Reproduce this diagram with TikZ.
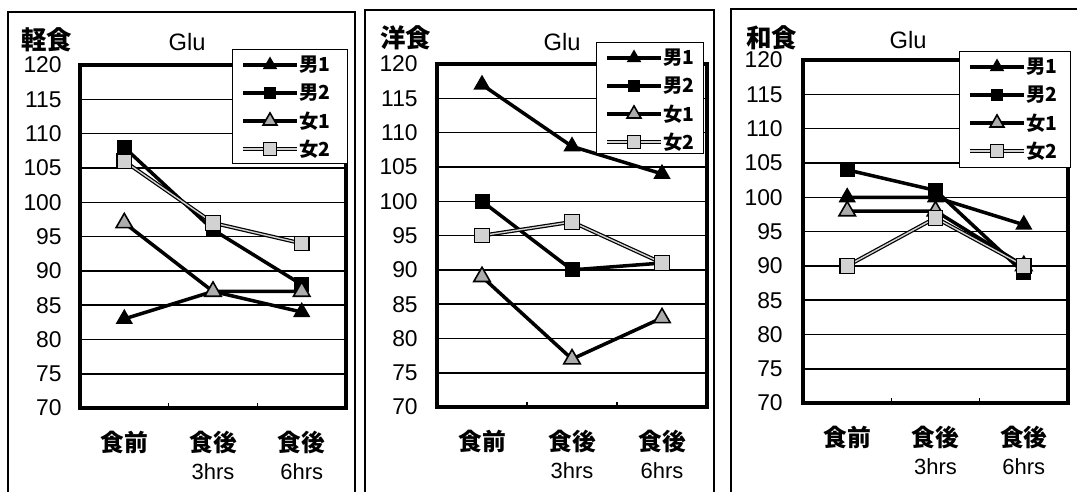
\documentclass[tikz,border=0pt]{standalone}
\usepackage{fontspec}
\setmainfont{Liberation Sans}
\newfontfamily\jp{Noto Sans CJK JP}
\usetikzlibrary{shapes.geometric}

\begin{document}
\begin{tikzpicture}[x=0.02cm, y=-0.02cm,
    panelframe/.style={line width=0.6pt},
    gridln/.style={line width=0.9pt},
    plotbox/.style={line width=1.9pt},
    axtick/.style={line width=0.8pt},
    ylab/.style={anchor=east, inner sep=0pt, font=\fontsize{13}{13}\selectfont},
    xlab/.style={inner sep=0pt, font=\jp\bfseries\fontsize{13.5}{13.5}\selectfont},
    hlab/.style={inner sep=0pt, font=\fontsize{12.5}{12.5}\selectfont},
    ttl/.style={anchor=west, inner sep=0pt, font=\jp\bfseries\fontsize{14.5}{14.5}\selectfont},
    glu/.style={inner sep=0pt, font=\fontsize{13.5}{13.5}\selectfont},
    legbox/.style={draw, fill=white, line width=0.8pt, anchor=north west, inner sep=0pt},
    legtxt/.style={anchor=west, inner sep=0pt, font=\jp\bfseries\fontsize{11}{11}\selectfont},
    ln1/.style={line width=2pt},
    ln2/.style={line width=2pt},
    ln3/.style={line width=2pt},
    ln4/.style={line width=0.7pt, double=gray!35, double distance=0.8pt},
    mk1/.style={regular polygon, regular polygon sides=3, fill=black, inner sep=0pt, minimum size=0.4cm},
    mk2/.style={rectangle, fill=black, inner sep=0pt, minimum size=0.3cm},
    mk3/.style={regular polygon, regular polygon sides=3, fill=gray!65, draw=black, line width=0.9pt, inner sep=0pt, minimum size=0.38cm},
    mk4/.style={rectangle, fill=gray!35, draw=black, line width=0.7pt, inner sep=0pt, minimum size=0.29cm}
]
    \useasboundingbox (0,0) rectangle (1077,492);
    \clip (0,0) rectangle (1077,492);
    \fill[white] (0,0) rectangle (1077,492);

    % Panel frames
    \draw[panelframe] (8,12) rectangle (355,520);
    \draw[panelframe] (365,10) rectangle (714,520);
    \draw[panelframe] (731,9) rectangle (1100,520);

    % Titles
    \node[ttl] (t1) at (21,40) {軽食};
    \node[glu] (g1) at (187,42) {Glu};
    \node[ttl] (t2) at (380,38) {洋食};
    \node[glu] (g2) at (562,42) {Glu};
    \node[ttl] (t3) at (746,38) {和食};
    \node[glu] (g3) at (908,40) {Glu};

    % Panel 1
    \begin{scope}[shift={(80,888.2)}, y=0.1372cm]
        \foreach \v in {75,80,...,115} \draw[gridln] (0,\v) -- (266,\v);
        \draw[plotbox] (0,70) rectangle (266,120);
        \foreach \t in {1,2} \draw[axtick] ({\t*266/3},70) -- ++(0,0.75);
        \foreach \v in {70,75,...,120} \node[ylab] (p1y\v) at (-18,\v) {\v};
        \node[xlab] (p1c1) at (44.3,65) {食前};
        \node[xlab] (p1c2) at (133,65) {食後};
        \node[xlab] (p1c3) at (221.7,65) {食後};
        \node[hlab] (p1h2) at (133,60.8) {3hrs};
        \node[hlab] (p1h3) at (221.7,60.8) {6hrs};
        % series
        \foreach \s/\a/\b/\c in {1/83/87/84, 2/108/96/88, 3/97/87/87, 4/106/97/94} {
            \coordinate (p1s\s a) at (44.3,\a);
            \coordinate (p1s\s b) at (133,\b);
            \coordinate (p1s\s c) at (221.7,\c);
            \draw[ln\s] (p1s\s a) -- (p1s\s b) -- (p1s\s c);
        }
        \foreach \s in {1,...,4} \foreach \p in {a,b,c} \node[mk\s] (p1m\s\p) at (p1s\s\p) {};
    \end{scope}

    % Panel 2
    \begin{scope}[shift={(437,887.2)}, y=0.1372cm]
        \foreach \v in {75,80,...,115} \draw[gridln] (0,\v) -- (270,\v);
        \draw[plotbox] (0,70) rectangle (270,120);
        \foreach \t in {1,2} \draw[axtick] ({\t*270/3},70) -- ++(0,0.75);
        \foreach \v in {70,75,...,120} \node[ylab] (p2y\v) at (-19,\v) {\v};
        \node[xlab] (p2c1) at (45,65) {食前};
        \node[xlab] (p2c2) at (135,65) {食後};
        \node[xlab] (p2c3) at (225,65) {食後};
        \node[hlab] (p2h2) at (135,60.8) {3hrs};
        \node[hlab] (p2h3) at (225,60.8) {6hrs};
        % series
        \foreach \s/\a/\b/\c in {1/117/108/104, 2/100/90/91, 3/89/77/83, 4/95/97/91} {
            \coordinate (p2s\s a) at (45,\a);
            \coordinate (p2s\s b) at (135,\b);
            \coordinate (p2s\s c) at (225,\c);
            \draw[ln\s] (p2s\s a) -- (p2s\s b) -- (p2s\s c);
        }
        \foreach \s in {1,...,4} \foreach \p in {a,b,c} \node[mk\s] (p2m\s\p) at (p2s\s\p) {};
    \end{scope}

    % Panel 3
    \begin{scope}[shift={(803,883.2)}, y=0.1372cm]
        \foreach \v in {75,80,...,115} \draw[gridln] (0,\v) -- (265,\v);
        \draw[plotbox] (0,70) rectangle (265,120);
        \foreach \t in {1,2} \draw[axtick] ({\t*265/3},70) -- ++(0,0.75);
        \foreach \v in {70,75,...,120} \node[ylab] (p3y\v) at (-20,\v) {\v};
        \node[xlab] (p3c1) at (44.2,65) {食前};
        \node[xlab] (p3c2) at (132.5,65) {食後};
        \node[xlab] (p3c3) at (220.8,65) {食後};
        \node[hlab] (p3h2) at (132.5,60.8) {3hrs};
        \node[hlab] (p3h3) at (220.8,60.8) {6hrs};
        % series
        \foreach \s/\a/\b/\c in {1/100/100/96, 2/104/101/89, 3/98/98/90, 4/90/97/90} {
            \coordinate (p3s\s a) at (44.2,\a);
            \coordinate (p3s\s b) at (132.5,\b);
            \coordinate (p3s\s c) at (220.8,\c);
            \draw[ln\s] (p3s\s a) -- (p3s\s b) -- (p3s\s c);
        }
        \foreach \s in {1,...,4} \foreach \p in {a,b,c} \node[mk\s] (p3m\s\p) at (p3s\s\p) {};
    \end{scope}

    % Legends
    \foreach \n/\lx/\ly/\w/\h in {1/232/49/115/114, 2/596/42/107/111, 3/959/51/111/116} {
        \node[legbox, minimum width=\w*0.02cm, minimum height=\h*0.02cm] (leg\n) at (\lx,\ly) {};
        \foreach \k/\lab [count=\r] in {1/男1, 2/男2, 3/女1, 4/女2} {
            \coordinate (leg\n a\k) at ({\lx+11},{\ly+16+28*(\r-1)});
            \coordinate (leg\n b\k) at ({\lx+65},{\ly+16+28*(\r-1)});
            \draw[ln\k] (leg\n a\k) -- (leg\n b\k);
            \node[mk\k, scale=0.85] (leg\n m\k) at ({\lx+38},{\ly+16+28*(\r-1)}) {};
            \node[legtxt] (leg\n t\k) at ({\lx+67},{\ly+16+28*(\r-1)}) {\lab};
        }
    }
\end{tikzpicture}
\end{document}
